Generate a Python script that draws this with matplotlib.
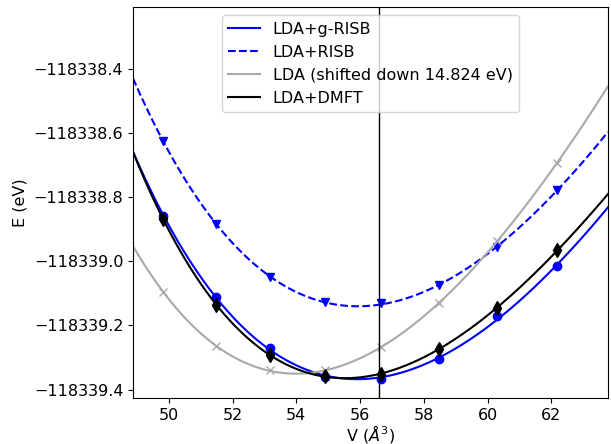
import numpy as np
import matplotlib
matplotlib.use('Agg')
import matplotlib.pyplot as plt

# volumes (A^3) and total energies (eV)
volume = [49.83, 51.48, 53.17, 54.90, 56.65, 58.47, 60.30, 62.18]
e_grisb = [-118338.858, -118339.111, -118339.270, -118339.360,
           -118339.366, -118339.303, -118339.170, -118339.015]
e_risb = [-118338.626, -118338.883, -118339.048, -118339.128,
          -118339.131, -118339.074, -118338.956, -118338.777]
e_lda = [-118339.095, -118339.265, -118339.340, -118339.340,
         -118339.267, -118339.131, -118338.937, -118338.692]
e_dmft = [-118338.869, -118339.135, -118339.293, -118339.358,
          -118339.350, -118339.272, -118339.147, -118338.965]
v_exp = 56.6

E0 = -118339.0


def fit_curve(v, e, vfit):
    # Birch-Murnaghan style fit: cubic polynomial in V^(-2/3)
    x = np.asarray(v) ** (-2.0 / 3.0)
    p = np.polyfit(x, np.array(e) - E0, 3)
    return np.polyval(p, np.asarray(vfit) ** (-2.0 / 3.0)) + E0


plt.rcParams['font.size'] = 11.5
fig = plt.figure(figsize=(6.11, 4.44), dpi=100)
ax = fig.add_axes([0.2177, 0.1029, 0.7773, 0.8807])

xmin, xmax = 48.88, 63.77
vfit = np.linspace(xmin, xmax, 300)

ax.plot(vfit, fit_curve(volume, e_grisb, vfit), color='blue', label='LDA+g-RISB')
ax.plot(volume, e_grisb, 'o', color='blue', ms=6)

ax.plot(vfit, fit_curve(volume, e_risb, vfit), '--', color='blue', label='LDA+RISB')
ax.plot(volume, e_risb, 'v', color='blue', ms=6)

ax.plot(vfit, fit_curve(volume, e_lda, vfit), color='darkgray',
        label='LDA (shifted down 14.824 eV)')
ax.plot(volume, e_lda, 'x', color='darkgray', ms=6)

ax.plot(vfit, fit_curve(volume, e_dmft, vfit), color='black', label='LDA+DMFT')
ax.plot(volume, e_dmft, 'd', color='black', ms=7)

ax.axvline(v_exp, color='black', lw=1)

ax.set_xlim(xmin, xmax)
ax.set_ylim(-118339.427, -118338.208)
ax.ticklabel_format(axis='y', useOffset=False, style='plain')
ax.set_xlabel(r'V ($\AA^3$)', labelpad=0)
ax.set_ylabel('E (eV)')
ax.legend(loc='upper center')

fig.savefig('out.png', dpi=100)
